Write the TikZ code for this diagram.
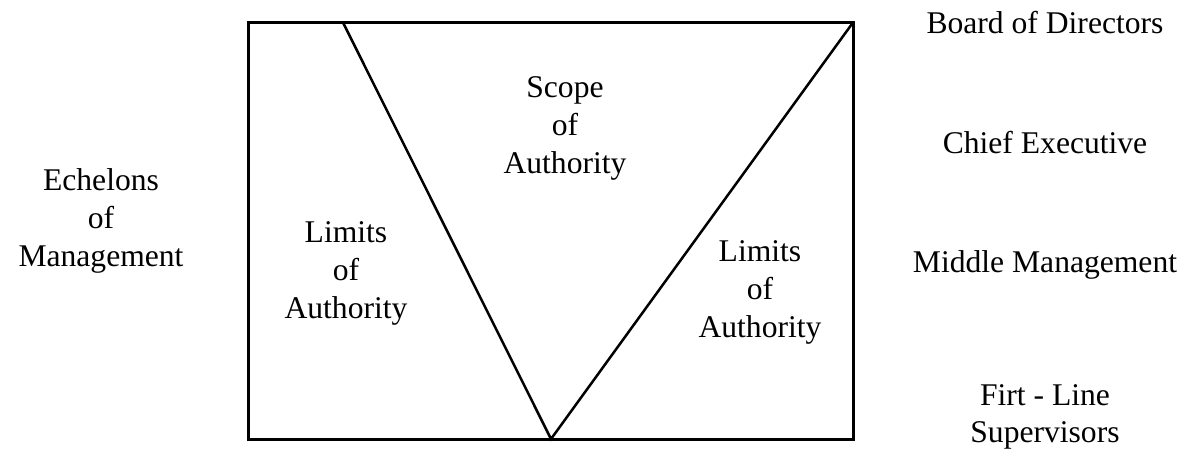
\documentclass[tikz,border=0pt]{standalone}
\usepackage{fontspec}
\setmainfont{Liberation Serif}
\begin{document}
\begin{tikzpicture}[x=1pt,y=-1pt,
  lbl/.style={align=center,anchor=base,inner sep=0pt,font=\fontsize{31.6}{38}\selectfont},
  frame/.style={line width=3pt},
  vline/.style={line width=2.5pt}]
\useasboundingbox (0,0) rectangle (1187,450);
\coordinate (tl) at (248,22.5);
\coordinate (br) at (853,439);
\coordinate (vl) at (343,22.5);
\coordinate (vb) at (551,439);
\coordinate (vr) at (853,22.5);
\draw[frame] (tl) rectangle (br);
\draw[vline,line join=miter] (vl) -- (vb) -- (vr);
\node[lbl] (scope) at (565,173) {Scope\\of\\Authority};
\node[lbl] (limL) at (346,318) {Limits\\of\\Authority};
\node[lbl] (limR) at (760,337) {Limits\\of\\Authority};
\node[lbl] (ech) at (101,266) {Echelons\\of\\Management};
\node[lbl] (bod) at (1045,33) {Board of Directors};
\node[lbl] (ceo) at (1045,153) {Chief Executive};
\node[lbl] (mid) at (1045,272) {Middle Management};
\node[lbl,font=\fontsize{31.6}{37}\selectfont] (flm) at (1045,442) {Firt - Line\\Supervisors};
\end{tikzpicture}
\end{document}
